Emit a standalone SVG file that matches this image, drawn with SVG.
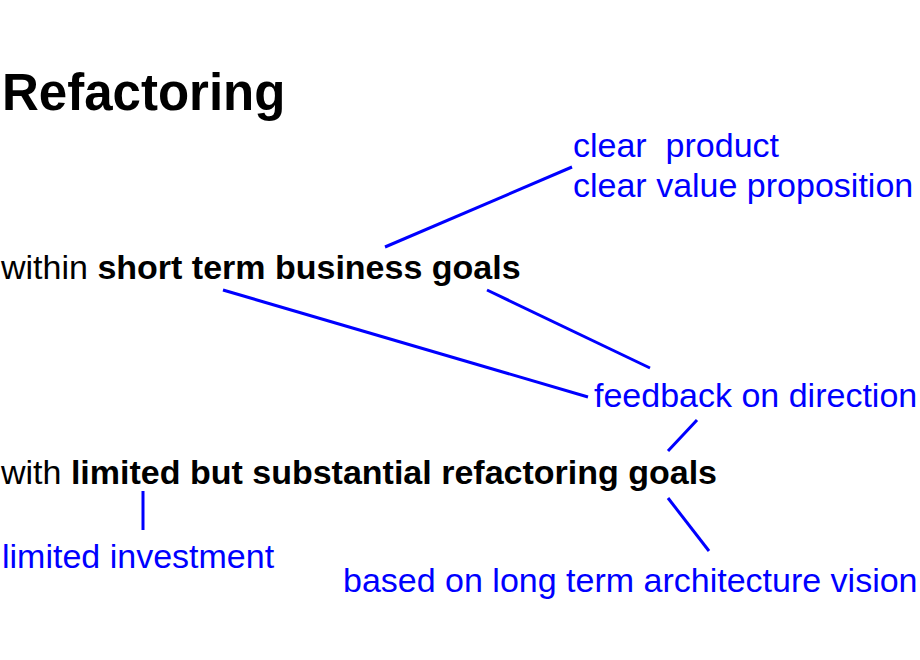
<svg xmlns="http://www.w3.org/2000/svg" width="920" height="660" viewBox="0 0 920 660">
<style>
text{font-family:"Liberation Sans",Arial,sans-serif;font-size:34px;white-space:pre}
.t{fill:#000}
.b{font-weight:bold}
.n{fill:#0000ff}
.c line{stroke:#0000ff;stroke-width:3;stroke-linecap:butt}
</style>
<rect width="920" height="660" fill="#fff"/>
<g id="title"><text class="t b" x="2" y="110" style="font-size:51px">Refactoring</text></g>
<g id="clear"><text class="n" x="573" y="157">clear  product</text><text class="n" x="573" y="197">clear value proposition</text></g>
<g id="short"><text class="t" x="1" y="279">within <tspan class="b">short term business goals</tspan></text></g>
<g id="feedback"><text class="n" x="594" y="407">feedback on direction</text></g>
<g id="limited"><text class="t" x="1" y="484">with <tspan class="b">limited but substantial refactoring goals</tspan></text></g>
<g id="investment"><text class="n" x="2" y="568">limited investment</text></g>
<g id="vision"><text class="n" x="343" y="592">based on long term architecture vision</text></g>
<g id="connectors" class="c">
<line x1="385" y1="247" x2="572" y2="167"/>
<line x1="223" y1="290" x2="588" y2="397"/>
<line x1="487" y1="290" x2="650" y2="368"/>
<line x1="697" y1="420" x2="668" y2="451"/>
<line x1="143" y1="491" x2="143" y2="530"/>
<line x1="668" y1="498" x2="709" y2="551"/>
</g>
</svg>
